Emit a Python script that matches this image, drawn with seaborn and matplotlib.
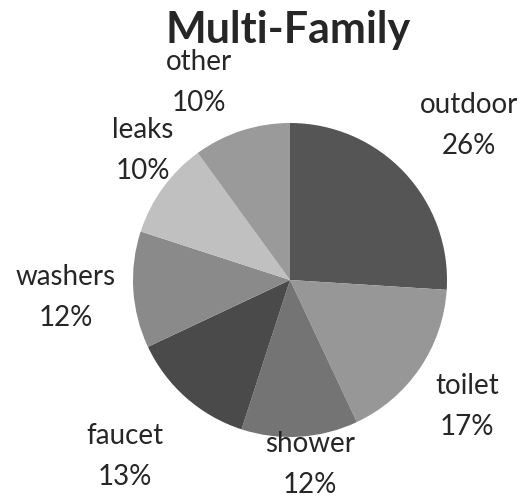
import matplotlib
matplotlib.use("Agg")
import matplotlib.pyplot as plt
import seaborn as sns

# data
categories = ["outdoor", "toilet", "shower", "faucet", "washers", "leaks", "other"]
shares = [26, 17, 12, 13, 12, 10, 10]
slice_colors = ["#555555", "#979797", "#747474", "#4a4a4a", "#8a8a8a", "#c0c0c0", "#9a9a9a"]

sns.set_style("white")
plt.rcParams['font.family'] = ['Lato', 'DejaVu Sans']

fig = plt.figure(figsize=(5.26, 5.01), dpi=100)
W, H = 526, 501
cx, cy, r = 290, 280, 157
ax = fig.add_axes([(cx - r) / W, (H - cy - r) / H, 2 * r / W, 2 * r / H])
ax.pie(shares, colors=slice_colors, startangle=90, counterclock=False,
       radius=1, wedgeprops={'linewidth': 0})
ax.set_xlim(-1, 1)
ax.set_ylim(-1, 1)
ax.set_aspect('equal')
ax.axis('off')

fig.text(288 / W, 1 - 30 / H, "Multi-Family", ha='center', va='center',
         fontsize=31, fontweight='bold')

# label spots in pixels (centre x, y of first line)
label_pos = {
    "outdoor": (469, 105),
    "toilet": (467, 386),
    "shower": (310, 444),
    "faucet": (125, 436),
    "washers": (66, 277),
    "leaks": (143, 130),
    "other": (199, 62),
}
for name, val in zip(categories, shares):
    x, y = label_pos[name]
    fig.text(x / W, 1 - y / H, name, ha='center', va='center', fontsize=20)
    fig.text(x / W, 1 - (y + 41) / H, f"{val}%", ha='center', va='center', fontsize=20)

fig.savefig("out.png", dpi=100)
